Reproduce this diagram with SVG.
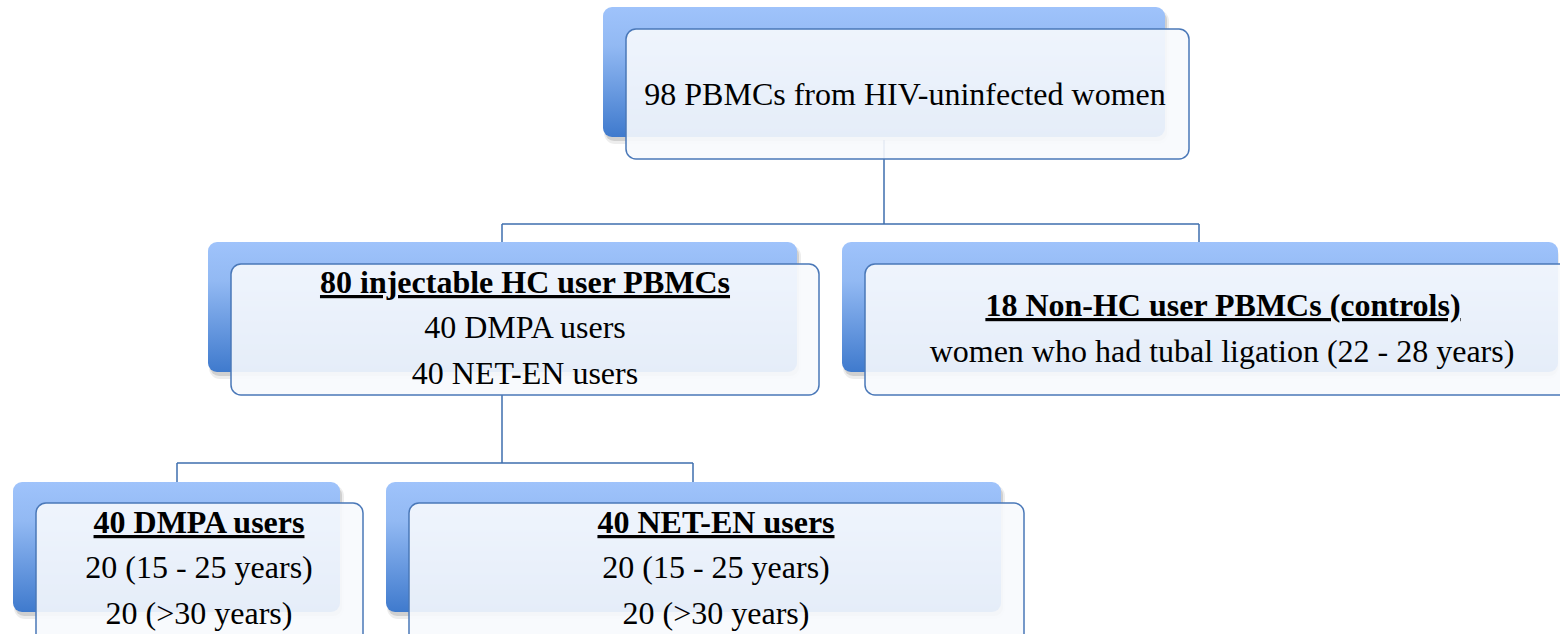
<svg xmlns="http://www.w3.org/2000/svg" width="1560" height="634" viewBox="0 0 1560 634" font-family="'Liberation Serif', 'Times New Roman', serif">
<defs>
<linearGradient id="bg" x1="0" y1="0" x2="0" y2="1">
<stop offset="0" stop-color="#9fc3fb"/>
<stop offset="0.3" stop-color="#92b9f3"/>
<stop offset="1" stop-color="#3f7acd"/>
</linearGradient>
</defs>
<rect width="1560" height="634" fill="#ffffff"/>
<g id="connectors" fill="none" stroke="#3f6fae" stroke-width="1.5">
<path d="M884 140 V224 M502 224 H1199 M502 224 V264 M1199 224 V264"/>
<path d="M502 395 V463 M177 463 H693 M177 463 V482 M693 463 V482"/>
</g>
<g id="node-top">
<rect fill="#000" fill-opacity="0.07" x="604" y="10" width="565" height="134" rx="11"/>
<rect fill="#000" fill-opacity="0.12" x="605" y="11" width="562" height="130" rx="9"/>
<rect fill="url(#bg)" x="603" y="7" width="562" height="130" rx="9"/>
<rect fill="#f7f9fd" fill-opacity="0.9" stroke="#4a78b8" stroke-width="1.5" x="626" y="29" width="563" height="130" rx="10"/>
<text x="905" y="105" font-family="Liberation Serif" font-size="32" text-anchor="middle">98 PBMCs from HIV-uninfected women</text>
</g>
<g id="node-hc">
<rect fill="#000" fill-opacity="0.07" x="209" y="245" width="592" height="134" rx="11"/>
<rect fill="#000" fill-opacity="0.12" x="210" y="246" width="589" height="130" rx="9"/>
<rect fill="url(#bg)" x="208" y="242" width="589" height="130" rx="9"/>
<rect fill="#f7f9fd" fill-opacity="0.9" stroke="#4a78b8" stroke-width="1.5" x="231" y="264" width="588" height="131" rx="10"/>
<text x="525" y="293" font-family="Liberation Serif" font-size="32" font-weight="bold" text-decoration="underline" text-anchor="middle">80 injectable HC user PBMCs</text>
<text x="525" y="338" font-family="Liberation Serif" font-size="32" text-anchor="middle">40 DMPA users</text>
<text x="525" y="384" font-family="Liberation Serif" font-size="32" text-anchor="middle">40 NET-EN users</text>
</g>
<g id="node-nonhc">
<rect fill="#000" fill-opacity="0.07" x="843" y="245" width="716" height="134" rx="11"/>
<rect fill="#000" fill-opacity="0.12" x="844" y="246" width="714" height="130" rx="9"/>
<rect fill="url(#bg)" x="842" y="242" width="716" height="130" rx="9"/>
<path fill="#f7f9fd" fill-opacity="0.9" d="M875 264 H1560 V395 H875 A10 10 0 0 1 865 385 V274 A10 10 0 0 1 875 264 Z"/>
<path fill="none" stroke="#4a78b8" stroke-width="1.5" d="M1560 264 H875 A10 10 0 0 0 865 274 V385 A10 10 0 0 0 875 395 H1560"/>
<text x="1223" y="316" font-family="Liberation Serif" font-size="32" font-weight="bold" text-decoration="underline" text-anchor="middle">18 Non-HC user PBMCs (controls)</text>
<text x="1222" y="362" font-family="Liberation Serif" font-size="32" text-anchor="middle">women who had tubal ligation (22 - 28 years)</text>
</g>
<g id="node-dmpa">
<rect fill="#000" fill-opacity="0.07" x="14" y="485" width="330" height="134" rx="11"/>
<rect fill="#000" fill-opacity="0.12" x="15" y="486" width="327" height="130" rx="9"/>
<rect fill="url(#bg)" x="13" y="482" width="327" height="130" rx="9"/>
<path fill="#f7f9fd" fill-opacity="0.9" d="M46 503 H353 A10 10 0 0 1 363 513 V634 H36 V513 A10 10 0 0 1 46 503 Z"/>
<path fill="none" stroke="#4a78b8" stroke-width="1.5" d="M36 634 V513 A10 10 0 0 1 46 503 H353 A10 10 0 0 1 363 513 V634"/>
<text x="199" y="533" font-family="Liberation Serif" font-size="32" font-weight="bold" text-decoration="underline" text-anchor="middle">40 DMPA users</text>
<text x="199" y="578" font-family="Liberation Serif" font-size="32" text-anchor="middle">20 (15 - 25 years)</text>
<text x="199" y="624" font-family="Liberation Serif" font-size="32" text-anchor="middle">20 (&gt;30 years)</text>
</g>
<g id="node-neten">
<rect fill="#000" fill-opacity="0.07" x="387" y="485" width="618" height="134" rx="11"/>
<rect fill="#000" fill-opacity="0.12" x="388" y="486" width="615" height="130" rx="9"/>
<rect fill="url(#bg)" x="386" y="482" width="615" height="130" rx="9"/>
<path fill="#f7f9fd" fill-opacity="0.9" d="M419 503 H1014 A10 10 0 0 1 1024 513 V634 H409 V513 A10 10 0 0 1 419 503 Z"/>
<path fill="none" stroke="#4a78b8" stroke-width="1.5" d="M409 634 V513 A10 10 0 0 1 419 503 H1014 A10 10 0 0 1 1024 513 V634"/>
<text x="716" y="533" font-family="Liberation Serif" font-size="32" font-weight="bold" text-decoration="underline" text-anchor="middle">40 NET-EN users</text>
<text x="716" y="578" font-family="Liberation Serif" font-size="32" text-anchor="middle">20 (15 - 25 years)</text>
<text x="716" y="624" font-family="Liberation Serif" font-size="32" text-anchor="middle">20 (&gt;30 years)</text>
</g>
</svg>
